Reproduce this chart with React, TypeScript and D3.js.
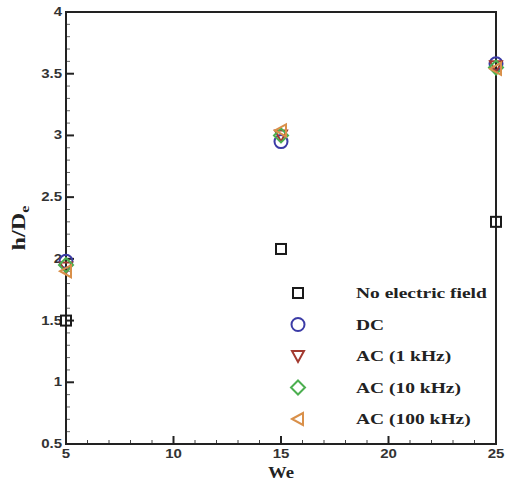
import React from "react";
import * as d3 from "d3";

const weValues = [5, 15, 25];
const noField = [1.5, 2.08, 2.3];
const dcValues = [1.98, 2.95, 3.58];
const ac1kValues = [1.93, 3.0, 3.56];
const ac10kValues = [1.95, 3.0, 3.55];
const ac100kValues = [1.9, 3.04, 3.54];
const seriesNames = ["No electric field", "DC", "AC (1 kHz)", "AC (10 kHz)", "AC (100 kHz)"];
const xTicks = [5, 10, 15, 20, 25];
const yTicks = [0.5, 1, 1.5, 2, 2.5, 3, 3.5, 4];

const W = 507, H = 486;
const L = 66, R = 496, T = 12, B = 444;
const SX = 1.25; // horizontal stretch of the raster

type Shape = "square" | "circle" | "down" | "diamond" | "left";
const series: { name: string; vals: number[]; shape: Shape; color: string }[] = [
  { name: seriesNames[0], vals: noField, shape: "square", color: "#1a1a1a" },
  { name: seriesNames[1], vals: dcValues, shape: "circle", color: "#3b3ba6" },
  { name: seriesNames[2], vals: ac1kValues, shape: "down", color: "#a33a30" },
  { name: seriesNames[3], vals: ac10kValues, shape: "diamond", color: "#4caf50" },
  { name: seriesNames[4], vals: ac100kValues, shape: "left", color: "#d9904a" },
];

function Marker({ x, y, shape, color }: { x: number; y: number; shape: Shape; color: string }) {
  const common = { fill: "none", stroke: color, strokeWidth: 2 };
  if (shape === "square") return <rect x={x - 5} y={y - 5} width={10} height={10} {...common} />;
  if (shape === "circle") return <circle cx={x} cy={y} r={6.5} {...common} />;
  if (shape === "down")
    return <path d={`M${x - 6},${y - 5} L${x + 6},${y - 5} L${x},${y + 6} Z`} {...common} />;
  if (shape === "diamond")
    return <path d={`M${x},${y - 7} L${x + 7},${y} L${x},${y + 7} L${x - 7},${y} Z`} {...common} />;
  return <path d={`M${x - 6},${y} L${x + 5},${y - 6} L${x + 5},${y + 6} Z`} {...common} />;
}

const sans = "Liberation Sans, Arial, sans-serif";
const serif = "Liberation Serif, Times New Roman, serif";

export default function App() {
  const x = d3.scaleLinear().domain([5, 25]).range([L, R]);
  const y = d3.scaleLinear().domain([0.5, 4]).range([B, T]);
  const xMinor = d3.range(5, 25.001, 1).filter((v) => !xTicks.includes(v));
  const yMinor = d3.range(0.5, 4.001, 0.1).filter((v) => !yTicks.some((t) => Math.abs(t - v) < 1e-6));
  const legendX = 298, legendTextX = 356, legendY0 = 293, legendStep = 31.5;
  return (
    <svg width={W} height={H} style={{ position: "absolute", left: 0, top: 0, background: "#fff" }}>
      {xMinor.map((t) => (
        <line key={"xm" + t} x1={x(t)} x2={x(t)} y1={B} y2={B - 4} stroke="#444" strokeWidth={1} />
      ))}
      {yMinor.map((t, i) => (
        <line key={"ym" + i} x1={L} x2={L + 4} y1={y(t)} y2={y(t)} stroke="#666" strokeWidth={1} />
      ))}
      <rect x={L} y={T} width={R - L} height={B - T} fill="none" stroke="#222" strokeWidth={2} />
      {xTicks.map((t) => (
        <g key={"xt" + t}>
          <line x1={x(t)} x2={x(t)} y1={B} y2={B - 8} stroke="#222" strokeWidth={2} />
          <text transform={`translate(${x(t)}, ${B + 14}) scale(${SX},1)`} textAnchor="middle" fontFamily={sans} fontWeight="bold" fontSize={12} fill="#333">
            {t}
          </text>
        </g>
      ))}
      {yTicks.map((t) => (
        <g key={"yt" + t}>
          <line x1={L} x2={L + 8} y1={y(t)} y2={y(t)} stroke="#222" strokeWidth={2} />
          <text transform={`translate(${L - 4}, ${y(t) + 4}) scale(${SX},1)`} textAnchor="end" fontFamily={sans} fontWeight="bold" fontSize={12} fill="#333">
            {t}
          </text>
        </g>
      ))}
      <text transform={`translate(${(L + R) / 2}, 478) scale(1.1,1)`} textAnchor="middle" fontFamily={serif} fontWeight="bold" fontSize={17} fill="#222">
        We
      </text>
      <text transform={`translate(25, ${(T + B) / 2}) rotate(-90) scale(1.35,1)`} textAnchor="middle" fontFamily={serif} fontWeight="bold" fontSize={18} fill="#222">
        h/D<tspan fontSize={12} dy={4}>e</tspan>
      </text>
      {series.map((s) =>
        s.vals.map((v, i) => <Marker key={s.name + i} x={x(weValues[i])} y={y(v)} shape={s.shape} color={s.color} />)
      )}
      {series.map((s, i) => (
        <g key={"lg" + i}>
          <Marker x={legendX} y={legendY0 + i * legendStep} shape={s.shape} color={s.color} />
          <text transform={`translate(${legendTextX}, ${legendY0 + i * legendStep + 5}) scale(1.3,1)`} fontFamily={serif} fontWeight="bold" fontSize={15} fill="#222">
            {s.name}
          </text>
        </g>
      ))}
    </svg>
  );
}
